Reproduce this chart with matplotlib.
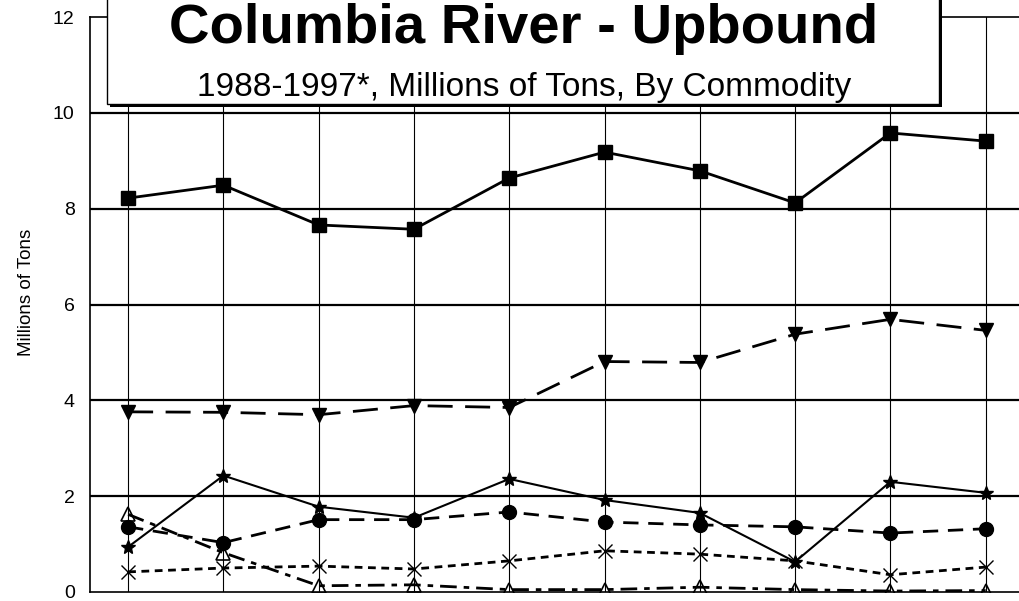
import matplotlib
matplotlib.use("Agg")
import matplotlib.pyplot as plt
from matplotlib.patches import Rectangle

plt.rcParams['font.family'] = ['Liberation Sans', 'DejaVu Sans']

years = [1988, 1989, 1990, 1991, 1992, 1993, 1994, 1995, 1996, 1997]
series_a = [8.22, 8.49, 7.66, 7.57, 8.64, 9.18, 8.79, 8.12, 9.58, 9.41]
series_b = [3.76, 3.75, 3.70, 3.89, 3.85, 4.81, 4.79, 5.38, 5.69, 5.46]
series_c = [0.94, 2.43, 1.78, 1.55, 2.36, 1.92, 1.65, 0.63, 2.30, 2.07]
series_d = [1.36, 1.03, 1.51, 1.51, 1.67, 1.46, 1.40, 1.36, 1.23, 1.32]
series_e = [0.42, 0.50, 0.54, 0.48, 0.65, 0.86, 0.79, 0.65, 0.36, 0.52]
series_f = [1.62, 0.82, 0.13, 0.15, 0.05, 0.05, 0.10, 0.05, 0.02, 0.03]
y_ticks = [0, 2, 4, 6, 8, 10, 12]

W, H = 1019, 601
fig = plt.figure(figsize=(W / 100, H / 100), dpi=100)
ax = fig.add_axes([90 / W, (H - 592) / H, (W - 90) / W, (592 - 17) / H])

x = list(range(len(years)))
ax.set_xlim(-0.4, 9.35)
ax.set_ylim(0, 12)

# grid
for xi in x:
    ax.axvline(xi, color='black', lw=0.8, zorder=1)
for yv in y_ticks[1:-1]:
    ax.axhline(yv, color='black', lw=1.6, zorder=1)

k = 'black'
ax.plot(x, series_a, color=k, lw=2.0, marker='s', ms=10, zorder=5)
ax.plot(x, series_b, color=k, lw=2.0, ls=(0, (9, 4.5)), marker='v', ms=10, zorder=5)
ax.plot(x, series_c, color=k, lw=1.5, marker='*', ms=10, zorder=5)
ax.plot(x, series_d, color=k, lw=2.0, ls=(0, (5.5, 3.5)), marker='o', ms=10, zorder=5)
ax.plot(x, series_e, color=k, lw=2.0, ls=(0, (2.8, 2.0)), marker='x', ms=10,
        mew=1.0, zorder=5)
ax.plot(x, series_f, color=k, lw=2.0, ls=(0, (6, 2.5, 2, 2.5)), marker='^', ms=10,
        mfc='none', mew=1.2, zorder=5)

ax.set_yticks(y_ticks)
ax.set_yticklabels([str(v) for v in y_ticks], fontsize=14)
ax.tick_params(axis='y', length=0, pad=11)
ax.set_xticks([])
ax.spines['right'].set_visible(False)
for s in ['left', 'top', 'bottom']:
    ax.spines[s].set_linewidth(1.2)


def px(xp, yp):
    return xp / W, 1 - yp / H


fig.text(px(27, 0)[0], px(0, 292)[1], 'Millions of Tons', rotation=90,
         ha='center', va='center', fontsize=13.5)

# title box with drop shadow
x0, y0 = px(110, 107)
x1, y1 = px(942, -20)
fig.patches.append(Rectangle((x0, y0), x1 - x0, y1 - y0, transform=fig.transFigure,
                             facecolor='black', edgecolor='none', zorder=10))
x0, y0 = px(107, 104)
x1, y1 = px(939, -20)
fig.patches.append(Rectangle((x0, y0), x1 - x0, y1 - y0, transform=fig.transFigure,
                             facecolor='white', edgecolor='black', lw=1.0, zorder=11))

cx, _ = px(524, 0)
fig.text(cx, px(0, 43)[1], 'Columbia River - Upbound', ha='center', va='baseline',
         fontsize=40.5, fontweight='bold', zorder=12)
fig.text(cx, px(0, 96)[1], '1988-1997*, Millions of Tons, By Commodity', ha='center',
         va='baseline', fontsize=24, zorder=12)

fig.savefig('out.png', dpi=100)
